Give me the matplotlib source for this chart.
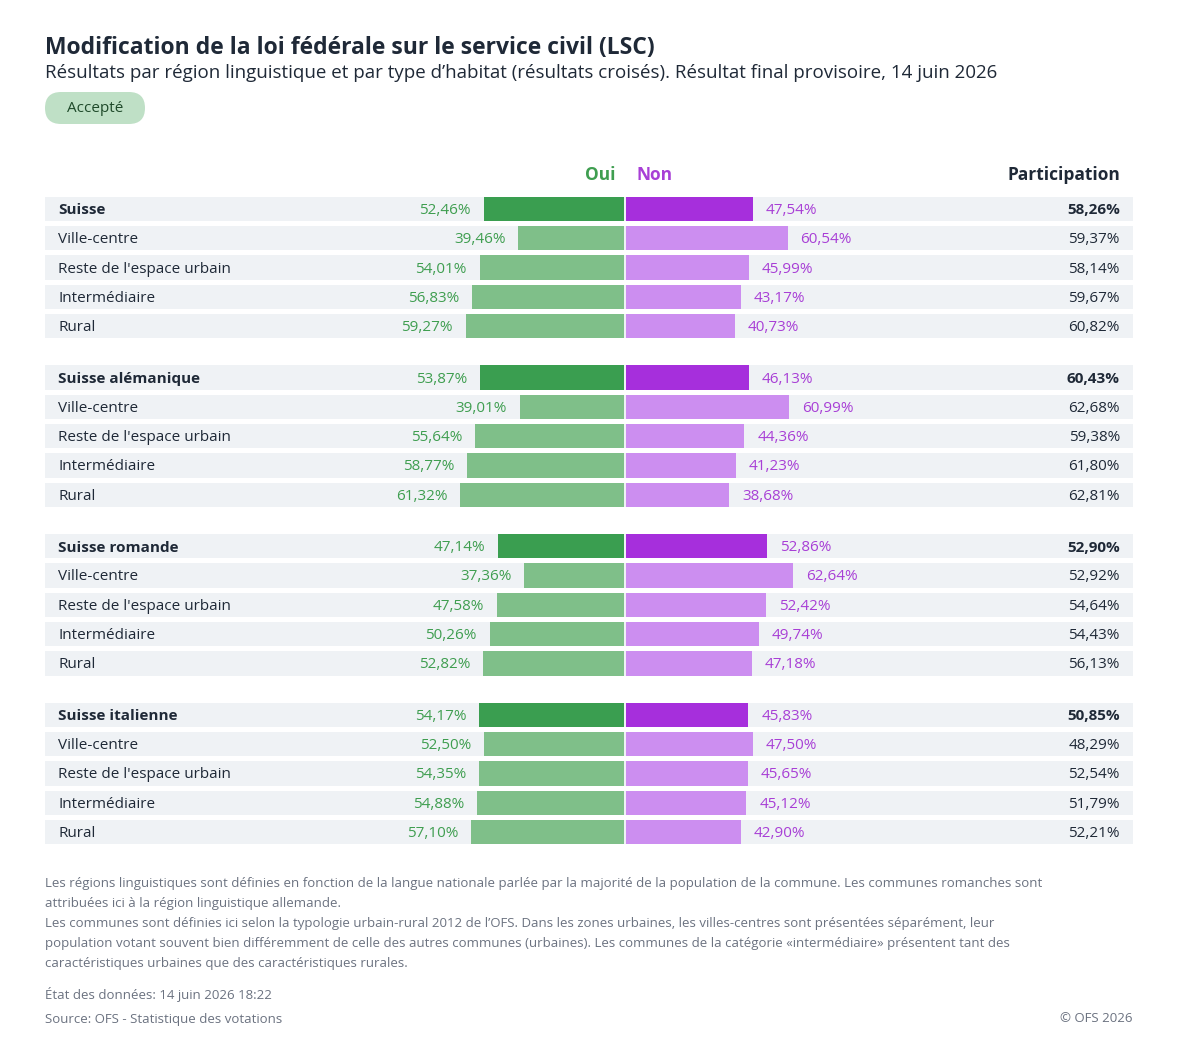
import matplotlib.pyplot as plt
from matplotlib.patches import FancyBboxPatch

plt.rcParams['font.family'] = ['Open Sans', 'DejaVu Sans']

groups = ['Suisse', 'Suisse alémanique', 'Suisse romande', 'Suisse italienne']
types = ['Ville-centre', "Reste de l'espace urbain", 'Intermédiaire', 'Rural']
oui = [
    [52.46, 39.46, 54.01, 56.83, 59.27],
    [53.87, 39.01, 55.64, 58.77, 61.32],
    [47.14, 37.36, 47.58, 50.26, 52.82],
    [54.17, 52.50, 54.35, 54.88, 57.10],
]
non = [
    [47.54, 60.54, 45.99, 43.17, 40.73],
    [46.13, 60.99, 44.36, 41.23, 38.68],
    [52.86, 62.64, 52.42, 49.74, 47.18],
    [45.83, 47.50, 45.65, 45.12, 42.90],
]
participation = [
    [58.26, 59.37, 58.14, 59.67, 60.82],
    [60.43, 62.68, 59.38, 61.80, 62.81],
    [52.90, 52.92, 54.64, 54.43, 56.13],
    [50.85, 48.29, 52.54, 51.79, 52.21],
]

W, H = 1179, 1063
fig = plt.figure(figsize=(W / 100, H / 100), dpi=100)
fig.patch.set_facecolor('white')


def ptext(x, y, s, **kw):
    fig.text(x / W, 1 - y / H, s, **kw)


def fmt(v):
    return f'{v:.2f}'.replace('.', ',') + '%'


# axes spanning the row area, x in percent, y in row units
x0, x1 = 45, 1133
y0, y1 = 179.7, 861.3
ax = fig.add_axes([x0 / W, 1 - y1 / H, (x1 - x0) / W, (y1 - y0) / H])
xmin, xmax = -217.2, 190.3
ax.set_xlim(xmin, xmax)
ax.set_ylim(22.25, -1)
ax.axis('off')

GREEN, LGREEN = '#3a9e50', '#7fbf89'
PURPLE, LPURPLE = '#a62fdc', '#cc8ef0'
TG, TP = '#3f9e50', '#a83fd6'
h = 0.83
dy = 0.05  # small downward nudge for text

for g, name in enumerate(groups):
    for r in range(5):
        y = g * 5.75 + r
        main = r == 0
        ax.barh(y, xmax - xmin, left=xmin, height=h, color='#eff2f5', lw=0)
        o, n = oui[g][r], non[g][r]
        ax.barh(y, -o, left=-0.4, height=h, color=GREEN if main else LGREEN, lw=0)
        ax.barh(y, n, left=0.4, height=h, color=PURPLE if main else LPURPLE, lw=0)
        ax.text(-o - 5.2, y + dy, fmt(o), color=TG, ha='right', va='center', fontsize=11)
        ax.text(n + 5.2, y + dy, fmt(n), color=TP, ha='left', va='center', fontsize=11)
        label = name if main else types[r - 1]
        ax.text(xmin + 4.9, y + dy, label, color='#1f2937', ha='left', va='center', fontsize=11,
                fontweight='bold' if main else 'normal')
        ax.text(xmax - 4.9, y + dy, fmt(participation[g][r]), color='#1f2937', ha='right',
                va='center', fontsize=11, fontweight='bold' if main else 'normal')

ptext(45, 48, 'Modification de la loi fédérale sur le service civil (LSC)', fontsize=16.5,
      fontweight='bold', color='#1f2937', va='center')
ptext(45, 73, 'Résultats par région linguistique et par type d’habitat (résultats croisés). '
      'Résultat final provisoire, 14 juin 2026', fontsize=13.5, color='#1f2937', va='center')
badge = FancyBboxPatch((45 / W, 1 - 124 / H), 100 / W, 32 / H,
                       boxstyle='round,pad=0,rounding_size=0.0136', transform=fig.transFigure,
                       facecolor='#bfe0c6', edgecolor='none', mutation_aspect=W / H)
fig.patches.append(badge)
ptext(95, 109, 'Accepté', fontsize=11, color='#1f4a2a', ha='center', va='center')

ptext(615, 175, 'Oui', fontsize=12.5, fontweight='bold', color=TG, ha='right', va='center')
ptext(636, 175, 'Non', fontsize=12.5, fontweight='bold', color=TP, ha='left', va='center')
ptext(1120, 175, 'Participation', fontsize=12.5, fontweight='bold', color='#1f2937',
      ha='right', va='center')

notes = [
    (884, 'Les régions linguistiques sont définies en fonction de la langue nationale parlée par la majorité de la population de la commune. Les communes romanches sont'),
    (904, 'attribuées ici à la région linguistique allemande.'),
    (924, 'Les communes sont définies ici selon la typologie urbain-rural 2012 de l’OFS. Dans les zones urbaines, les villes-centres sont présentées séparément, leur'),
    (944, 'population votant souvent bien différemment de celle des autres communes (urbaines). Les communes de la catégorie «intermédiaire» présentent tant des'),
    (964, 'caractéristiques urbaines que des caractéristiques rurales.'),
    (994, 'État des données: 14 juin 2026 18:22'),
    (1019, 'Source: OFS - Statistique des votations'),
]
for y, s in notes:
    ptext(45, y, s, fontsize=9.5, color='#6b7280', va='center')
ptext(1133, 1019, '© OFS 2026', fontsize=9.5, color='#6b7280', ha='right', va='center')

fig.savefig('out.png', dpi=100, facecolor='white')
